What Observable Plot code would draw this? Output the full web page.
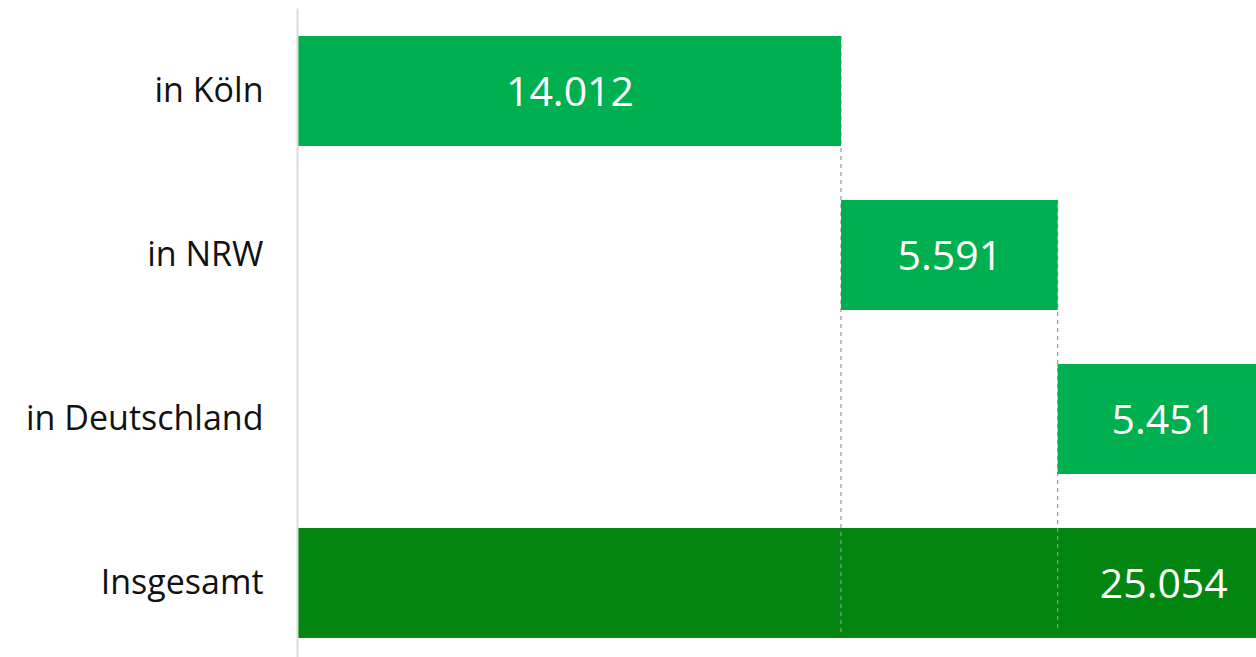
<!DOCTYPE html>
<html>
<head>
<meta charset="utf-8">
<script src="https://cdn.jsdelivr.net/npm/d3@7"></script>
<script src="https://cdn.jsdelivr.net/npm/@observablehq/plot@0.6"></script>
<style>
  html, body { margin: 0; padding: 0; background: #fff; overflow: hidden; }
  #chart svg { display: block; }
</style>
</head>
<body>
<div id="chart"></div>
<script>
const categories = ["in Köln", "in NRW", "in Deutschland", "Insgesamt"];
const values = [14012, 5591, 5451, 25054];
const kinds = ["segment", "segment", "segment", "total"];

const fmt = d3.formatLocale({decimal: ",", thousands: ".", grouping: [3], currency: ["", " €"]}).format(",d");

let cum = 0;
const rows = categories.map((c, i) => {
  let x1, x2;
  if (kinds[i] === "total") { x1 = 0; x2 = values[i]; }
  else { x1 = cum; x2 = cum + values[i]; cum = x2; }
  return {cat: c, value: values[i], kind: kinds[i], x1, x2};
});
const segs = rows.filter(d => d.kind === "segment");
const lastSeg = segs[segs.length - 1];
rows.forEach(d => {
  d.lx = d.kind === "total" ? (lastSeg.x1 + lastSeg.x2) / 2 : (d.x1 + d.x2) / 2;
});
const totalCat = rows.find(d => d.kind === "total").cat;
const connectors = segs.slice(0, -1).map(d => ({x: d.x2, from: d.cat, to: totalCat}));

const chart = Plot.plot({
  width: 1256,
  height: 657,
  marginLeft: 298,
  marginRight: 0,
  marginTop: 19.6,
  marginBottom: 2.7,
  style: {fontFamily: "'Open Sans', 'Noto Sans', sans-serif", background: "#fff", overflow: "hidden"},
  x: {domain: [0, 24722], axis: null},
  y: {domain: categories, paddingInner: 0.33, paddingOuter: 0.1, label: null},
  marks: [
    Plot.axisY({tickSize: 0, tickPadding: 35, fontSize: 34, color: "#111", label: null}),
    Plot.barX(rows.filter(d => d.kind === "total"), {x1: "x1", x2: "x2", y: "cat", fill: "#038511", clip: true}),
    Plot.ruleX(connectors, {x: "x", y1: "from", y2: "to", stroke: "#9a9a9a", strokeWidth: 1.2, strokeDasharray: "4,4", dx: -0.5, insetBottom: 6}),
    Plot.barX(segs, {x1: "x1", x2: "x2", y: "cat", fill: "#00b050", clip: true}),
    Plot.ruleX([0], {stroke: "#dcdcdc", strokeWidth: 2, dx: -1, insetTop: -11, insetBottom: -3}),
    Plot.text(rows, {x: "lx", y: "cat", text: d => fmt(d.value), fill: "#fff", fontSize: 41, textAnchor: "middle", dy: 1})
  ]
});
document.getElementById("chart").append(chart);
</script>
</body>
</html>
